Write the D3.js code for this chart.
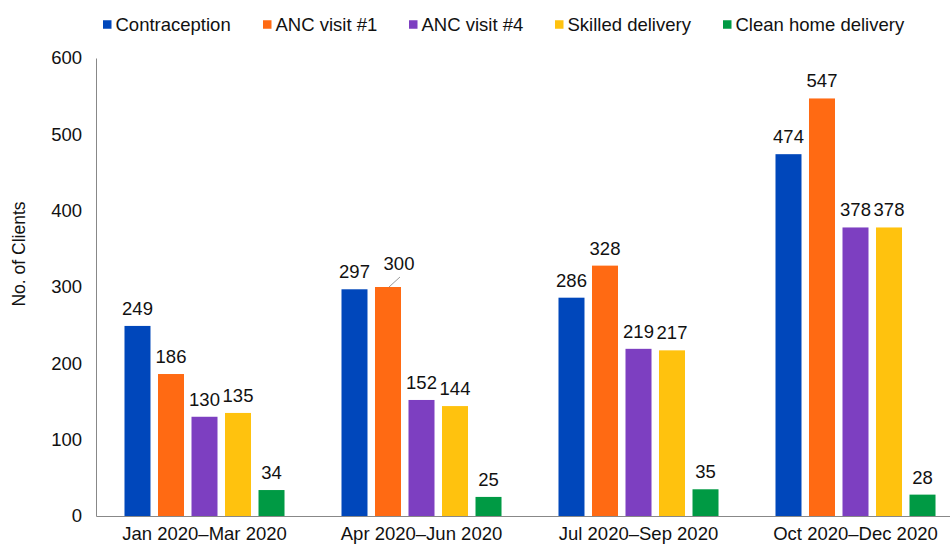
<!DOCTYPE html>
<html>
<head>
<meta charset="utf-8">
<script src="https://cdn.jsdelivr.net/npm/d3@7.9.0/dist/d3.min.js"></script>
<style>
  body { margin: 0; background: #fff; }
  svg { font-family: "Liberation Sans", Arial, Helvetica, sans-serif; }
</style>
</head>
<body>
<svg width="950" height="544"></svg>
<script>
const quarters = ['Jan 2020–Mar 2020', 'Apr 2020–Jun 2020', 'Jul 2020–Sep 2020', 'Oct 2020–Dec 2020'];
const seriesNames = ['Contraception', 'ANC visit #1', 'ANC visit #4', 'Skilled delivery', 'Clean home delivery'];
const contraception = [249, 297, 286, 474];
const ancVisit1 = [186, 300, 328, 547];
const ancVisit4 = [130, 152, 219, 378];
const skilledDelivery = [135, 144, 217, 378];
const cleanHomeDelivery = [34, 25, 35, 28];
const yTicks = [0, 100, 200, 300, 400, 500, 600];

const seriesValues = [contraception, ancVisit1, ancVisit4, skilledDelivery, cleanHomeDelivery];
const colors = ['#0047BB', '#FF6A13', '#7D3FC1', '#FFC20E', '#009A44'];

const svg = d3.select('svg');
const plotLeft = 96, plotBottom = 516, plotTop = 58;
const fs = 18.5;

const y = d3.scaleLinear().domain([0, 600]).range([plotBottom, plotTop]);
const x0 = d3.scaleBand().domain(quarters).range([plotLeft, plotLeft + 868]).paddingInner(0.228).paddingOuter(0.114);
const x1 = d3.scaleBand().domain(d3.range(seriesNames.length)).range([0, x0.bandwidth()]).paddingInner(0.224).paddingOuter(0.112);

// bars
const groups = svg.append('g').selectAll('g')
  .data(quarters)
  .join('g')
  .attr('transform', d => `translate(${x0(d)},0)`);

groups.selectAll('rect')
  .data((q, qi) => seriesValues.map((vals, si) => ({ si, v: vals[qi], qi })))
  .join('rect')
  .attr('x', d => x1(d.si))
  .attr('y', d => y(d.v))
  .attr('width', x1.bandwidth())
  .attr('height', d => plotBottom - y(d.v))
  .attr('fill', d => colors[d.si]);

// value labels (the 300 one is pushed aside with a leader line)
groups.selectAll('g.lbl')
  .data((q, qi) => seriesValues.map((vals, si) => ({ si, v: vals[qi], qi })))
  .join('g')
  .attr('class', 'lbl')
  .each(function (d) {
    const g = d3.select(this);
    const cx = x1(d.si) + x1.bandwidth() / 2;
    const shifted = d.qi === 1 && d.si === 1;
    if (shifted) {
      g.append('line')
        .attr('x1', cx + 1).attr('y1', y(d.v))
        .attr('x2', cx + 12).attr('y2', y(d.v) - 10)
        .attr('stroke', '#999').attr('stroke-width', 1);
    }
    g.append('text')
      .attr('x', shifted ? cx + 11 : cx)
      .attr('y', shifted ? y(d.v) - 17 : y(d.v) - 11)
      .attr('text-anchor', 'middle')
      .attr('font-size', fs)
      .attr('fill', '#111')
      .text(d.v);
  });

// y axis
const yAxis = d3.axisLeft(y).tickValues(yTicks).tickSize(0).tickPadding(14);
svg.append('g')
  .attr('transform', `translate(${plotLeft},0)`)
  .call(yAxis)
  .call(g => g.select('.domain').attr('stroke', '#888'))
  .call(g => g.selectAll('text').attr('font-size', fs).attr('fill', '#111').style('font-family', '"Liberation Sans", Arial, sans-serif'));

// x axis
const xAxis = d3.axisBottom(x0).tickSize(0).tickPadding(11);
svg.append('g')
  .attr('transform', `translate(0,${plotBottom})`)
  .call(xAxis)
  .call(g => g.select('.domain').attr('stroke', '#888'))
  .call(g => g.selectAll('text').attr('font-size', fs).attr('fill', '#111').style('font-family', '"Liberation Sans", Arial, sans-serif'));

// y title
svg.append('text')
  .attr('transform', `translate(25,254) rotate(-90)`)
  .attr('text-anchor', 'middle')
  .attr('font-size', 17.5)
  .attr('fill', '#111')
  .text('No. of Clients');

// legend
const legendX = [103, 263, 409, 555, 723];
const legend = svg.append('g').selectAll('g')
  .data(seriesNames)
  .join('g')
  .attr('transform', (d, i) => `translate(${legendX[i]},24.5)`);
legend.append('rect')
  .attr('x', 0).attr('y', -4.25).attr('width', 8.5).attr('height', 8.5)
  .attr('fill', (d, i) => colors[i]);
legend.append('text')
  .attr('x', 12.5).attr('y', 6.5)
  .attr('font-size', fs)
  .attr('fill', '#111')
  .text(d => d);
</script>
</body>
</html>
